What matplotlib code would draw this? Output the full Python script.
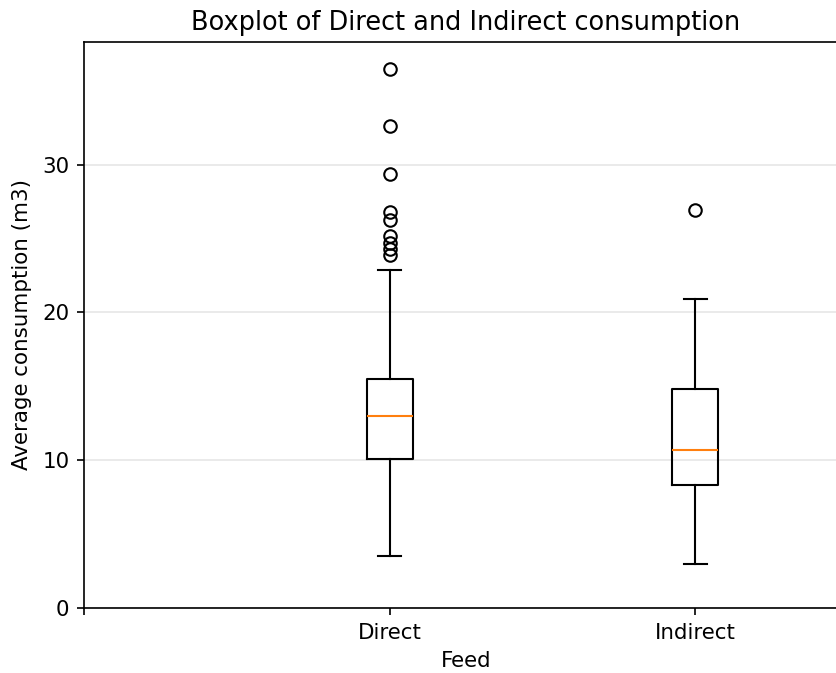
import matplotlib
matplotlib.use("Agg")
import matplotlib.pyplot as plt

categories = ["Direct", "Indirect"]
whislo = [3.5, 3.0]
q1 = [10.1, 8.3]
med = [13.0, 10.7]
q3 = [15.5, 14.85]
whishi = [22.9, 20.9]
fliers = [
    [36.45, 32.6, 29.4, 26.8, 26.25, 25.15, 24.7, 24.3, 23.9],
    [26.9],
]
tick_labels = ["", "Direct", "Indirect"]

DPI = 150
plt.rcParams["font.size"] = 10.25
fig = plt.figure(figsize=(836 / DPI, 673 / DPI), dpi=DPI)
ax = fig.add_axes([84 / 836, 1 - 608 / 673, (848 - 84) / 836, (608 - 42) / 673])

stats = []
for i, name in enumerate(categories):
    stats.append(dict(label=name, whislo=whislo[i], q1=q1[i], med=med[i],
                      q3=q3[i], whishi=whishi[i], fliers=fliers[i]))

ax.bxp(stats, positions=[1, 2], widths=0.15)
ax.set_xlim(0, 2.5)
ax.set_ylim(0, 38.3)
ax.set_xticks([0, 1, 2])
ax.set_xticklabels(tick_labels)
ax.set_yticks([0, 10, 20, 30])
ax.yaxis.grid(True, color="#e6e6e6", linewidth=0.8)
ax.set_axisbelow(True)
ax.set_title("Boxplot of Direct and Indirect consumption", fontsize=12.3)
ax.set_xlabel("Feed")
ax.set_ylabel("Average consumption (m3)", labelpad=5)

fig.savefig("out.png", dpi=DPI)
